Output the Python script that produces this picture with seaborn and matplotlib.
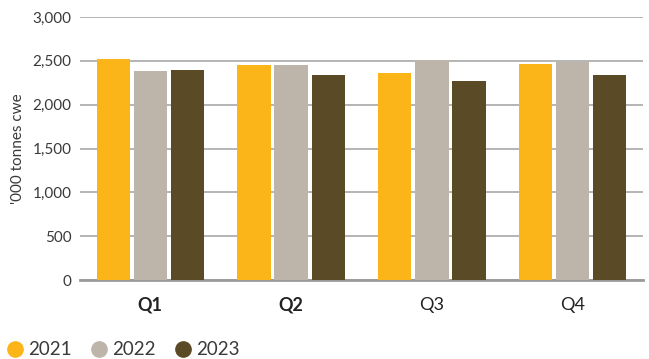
import matplotlib
matplotlib.use("Agg")
import matplotlib.pyplot as plt
import seaborn as sns
import pandas as pd
from matplotlib.lines import Line2D

quarters = ["Q1", "Q2", "Q3", "Q4"]
years = ["2021", "2022", "2023"]
v2021 = [2520, 2450, 2360, 2465]
v2022 = [2385, 2450, 2510, 2485]
v2023 = [2395, 2335, 2270, 2335]
colors = ["#FBB519", "#BDB5A9", "#5B4A26"]
yticks = [0, 500, 1000, 1500, 2000, 2500, 3000]

rows = []
for y, vals in zip(years, [v2021, v2022, v2023]):
    for q, v in zip(quarters, vals):
        rows.append({"quarter": q, "year": y, "value": v})
df = pd.DataFrame(rows)

sns.set_theme(style="white")
plt.rcParams["font.family"] = ["Lato", "DejaVu Sans"]

fig = plt.figure(figsize=(6.49, 3.59), dpi=100)
ax = fig.add_axes([80/649, 1-280/359, 563/649, 263/359])

sns.barplot(data=df, x="quarter", y="value", hue="year", palette=colors,
            order=quarters, hue_order=years, width=0.79, gap=0.1,
            saturation=1, ax=ax, legend=False, zorder=3, linewidth=0)

ax.set_ylim(0, 3000)
ax.set_xlim(-0.5, 3.5)
ax.set_yticks(yticks)
ax.set_yticklabels([f"{t:,}" for t in yticks], color="#3a3a3a", fontsize=11)
ax.yaxis.grid(True, color="#a8a8a8", linewidth=1.2, zorder=0)
ax.set_axisbelow(True)
for s in ["top", "right", "left"]:
    ax.spines[s].set_visible(False)
ax.spines["bottom"].set_color("#9a9a9a")
ax.spines["bottom"].set_linewidth(2)
ax.tick_params(axis="y", length=0, pad=6)
ax.tick_params(axis="x", length=0, pad=12)
ax.set_xlabel("")
ax.set_ylabel("'000 tonnes cwe", color="#3a3a3a", fontsize=11)
ax.yaxis.set_label_coords(-0.11, 0.5)
ax.yaxis.label.set_verticalalignment("center")
for i, lab in enumerate(ax.get_xticklabels()):
    lab.set_fontsize(13)
    lab.set_color("#222222")
    lab.set_fontweight("bold" if i < 2 else "normal")

handles = [Line2D([0], [0], marker="o", linestyle="", markersize=11,
                  markerfacecolor=c, markeredgecolor=c) for c in colors]
fig.legend(handles, years, loc="lower left", bbox_to_anchor=(-0.02, -0.045),
           ncol=3, frameon=False, fontsize=13.5, handletextpad=0.1,
           columnspacing=0.85, handlelength=1.2, labelcolor="#3a3a3a")

fig.savefig("out.png", dpi=100)
